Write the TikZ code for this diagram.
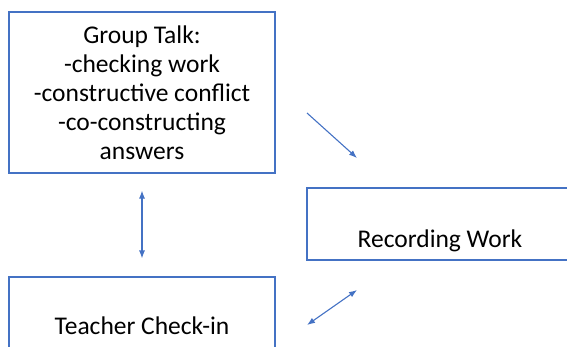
\documentclass[tikz,border=0pt]{standalone}
\usepackage{fontspec}
\setmainfont{Carlito}
\usetikzlibrary{arrows.meta}
\definecolor{boxblue}{RGB}{68,114,196}

\begin{document}
\begin{tikzpicture}[x=1pt,y=-1pt,
  box/.style={draw=boxblue,line width=1.1pt,rectangle,minimum width=266pt,align=center,
    font=\fontsize{25.5}{29}\selectfont,inner sep=0pt},
  link/.style={boxblue,line width=1.1pt,-{Latex[length=8pt,width=6pt]}},
  both/.style={{Latex[length=8pt,width=6pt]}-{Latex[length=8pt,width=6pt]}}]
  \useasboundingbox (0,0) rectangle (567,346);
  \clip (0,0) rectangle (567,346);
  \node[box,minimum height=161pt] (talk) at (142,92.5) {Group Talk:\\-checking work\\-constructive conflict\\-co-constructing\\answers};
  \node[box,minimum height=72pt] (record) at (440,224) {\rule{0pt}{51pt}Recording Work};
  \node[box,minimum height=98pt] (check) at (142,326) {Teacher Check-in};
  \coordinate (a1) at (307,113);
  \coordinate (a2) at (357,158);
  \coordinate (b1) at (357,290);
  \coordinate (b2) at (307,325);
  \draw[link] (a1) -- (a2);
  \draw[link,both,shorten <=17pt,shorten >=18pt] (talk.south) -- (check.north);
  \draw[link,both] (b1) -- (b2);
\end{tikzpicture}
\end{document}
